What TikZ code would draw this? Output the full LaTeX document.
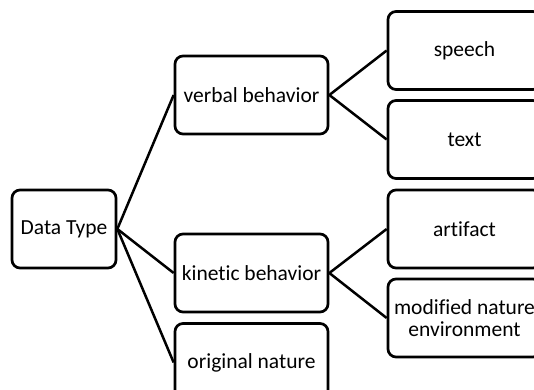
\documentclass[tikz,border=0pt]{standalone}
\usepackage{fontspec}
\setmainfont{Carlito}[Ligatures=NoCommon]
\begin{document}
\begin{tikzpicture}[x=1pt,y=-1pt,
  box/.style={draw=black, line width=2.7pt, rounded corners=8pt, fill=white,
    minimum width=153pt, minimum height=78pt, inner sep=2pt, align=center,
    font=\fontsize{21.5}{22.5}\selectfont},
  conn/.style={draw=black, line width=2.5pt}]
\useasboundingbox (0,0) rectangle (534,389);
\clip (0,0) rectangle (534,389);
\node[box, minimum width=104pt] (dt) at (64,229) {Data Type};
\node[box] (vb) at (251.5,95) {verbal behavior};
\node[box] (kb) at (251.5,273) {kinetic behavior};
\node[box] (on) at (251.5,362.5) {original nature};
\node[box] (sp) at (464.5,50.5) {speech};
\node[box] (tx) at (464.5,139.5) {text};
\node[box] (ar) at (464.5,229) {artifact};
\node[box] (mn) at (464.5,318) {modified nature\\environment};
\draw[conn] (dt.east) -- (vb.west);
\draw[conn] (dt.east) -- (kb.west);
\draw[conn] (dt.east) -- (on.west);
\draw[conn] (vb.east) -- (sp.west);
\draw[conn] (vb.east) -- (tx.west);
\draw[conn] (kb.east) -- (ar.west);
\draw[conn] (kb.east) -- (mn.west);
\end{tikzpicture}
\end{document}
